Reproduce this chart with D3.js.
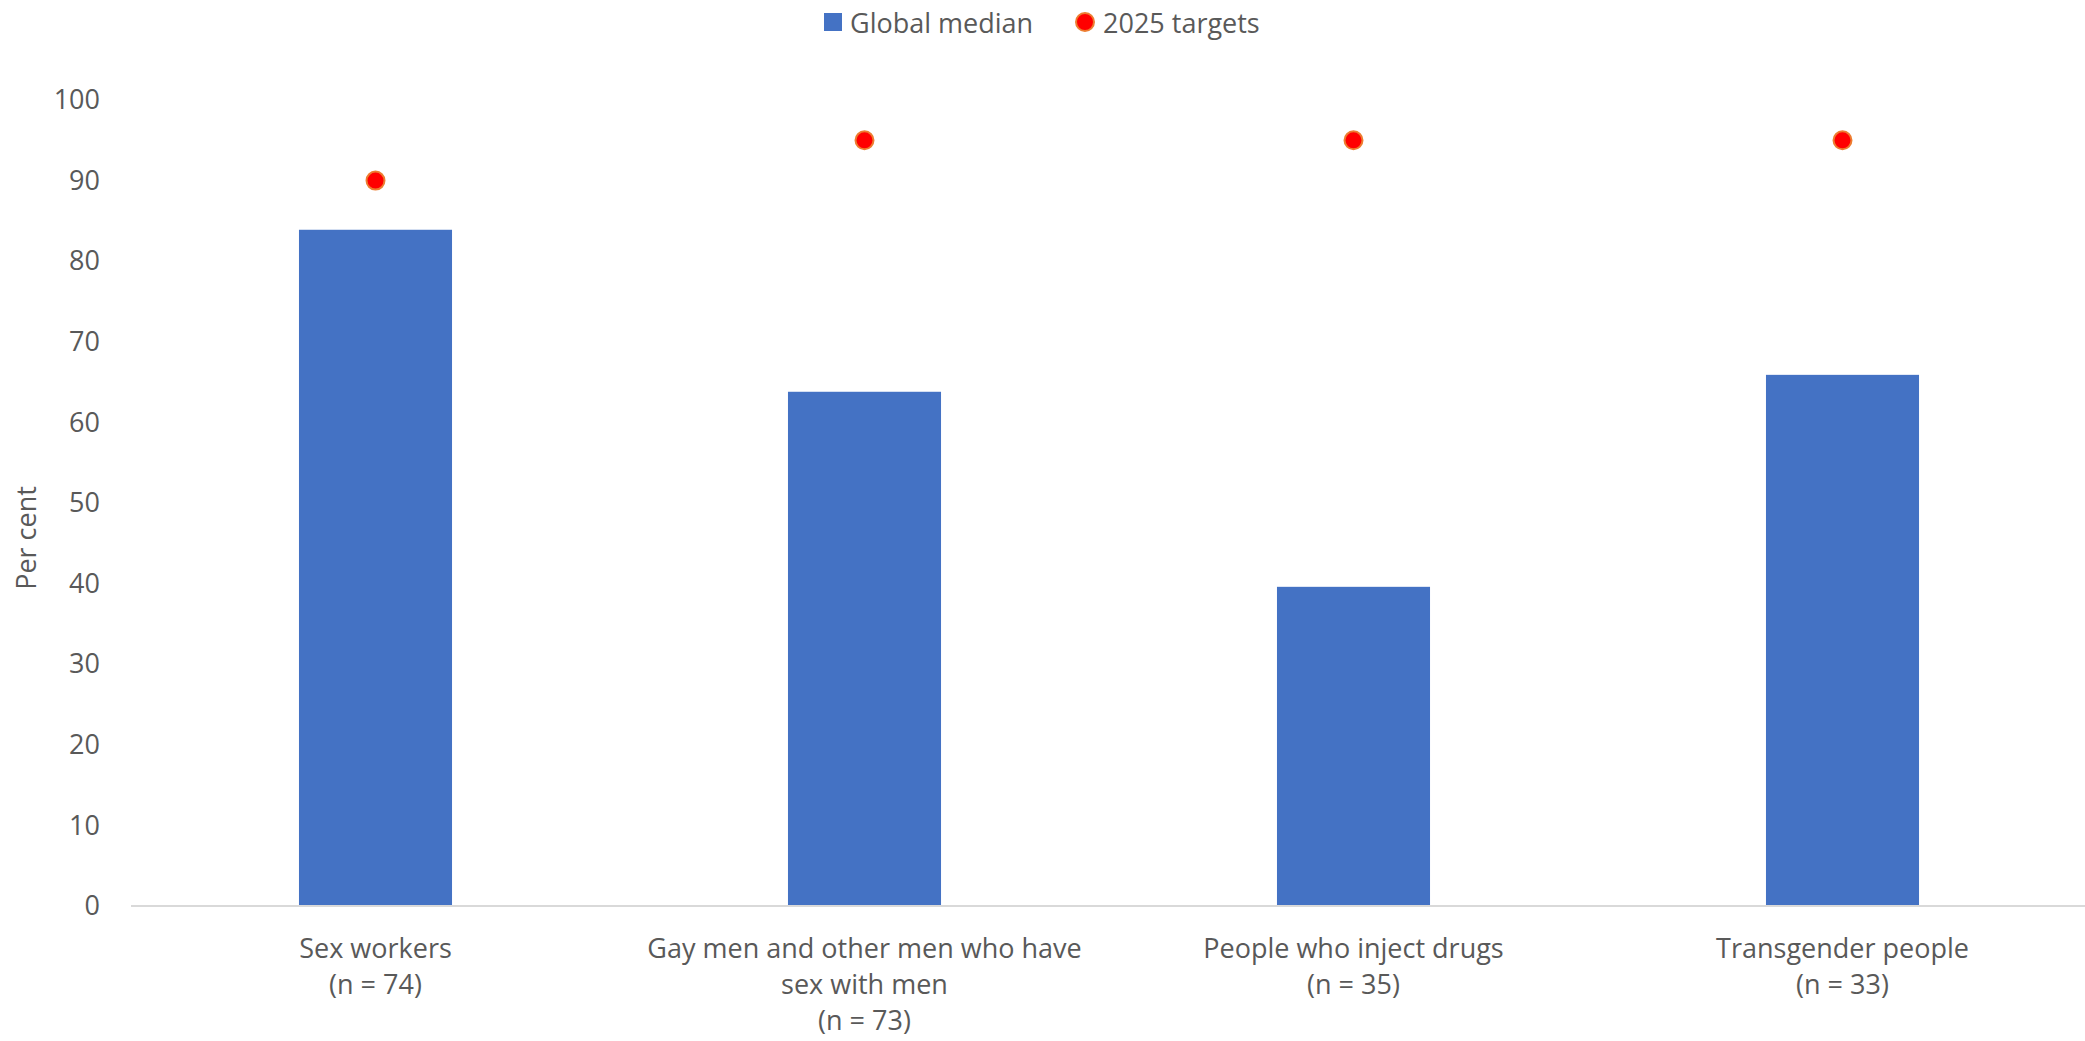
<!DOCTYPE html>
<html>
<head>
<meta charset="utf-8">
<script src="https://cdn.jsdelivr.net/npm/d3@7"></script>
<style>
  html, body { margin: 0; padding: 0; background: #fff; }
  svg { display: block; }
  text { font-family: "Open Sans", Lato, sans-serif; fill: #595959; }
</style>
</head>
<body>
<svg id="chart" width="2085" height="1041"></svg>
<script>
// Key-population groups and their sample sizes
const categories = [
  ["Sex workers", "(n = 74)"],
  ["Gay men and other men who have", "sex with men", "(n = 73)"],
  ["People who inject drugs", "(n = 35)"],
  ["Transgender people", "(n = 33)"]
];
const globalMedian = [83.9, 63.8, 39.6, 65.9];
const targets2025 = [90, 95, 95, 95];
const yTicks = [0, 10, 20, 30, 40, 50, 60, 70, 80, 90, 100];

const W = 2085, H = 1041;
const margin = { left: 131, right: -2, top: 100, bottom: 135 };
const svg = d3.select("#chart");

const x = d3.scaleBand()
  .domain(d3.range(categories.length))
  .range([margin.left, W - margin.right])
  .padding(0);
const y = d3.scaleLinear()
  .domain([0, 100])
  .range([H - margin.bottom, margin.top]);

const barW = x.bandwidth() * 0.313;
const fontSize = 27;
const fontFamily = "'Open Sans', Lato, sans-serif";

// Y axis labels (no axis line, no gridlines)
const yAxis = d3.axisLeft(y).tickValues(yTicks).tickSize(0).tickPadding(0);
const gy = svg.append("g").attr("transform", `translate(100,0)`).call(yAxis);
gy.select(".domain").remove();
gy.selectAll("text")
  .attr("font-size", fontSize)
  .attr("fill", "#595959")
  .style("font-family", fontFamily);

// Y axis title
svg.append("text")
  .attr("transform", `translate(25,${(y(0) + y(100)) / 2 + 35}) rotate(-90)`)
  .attr("text-anchor", "middle")
  .attr("dominant-baseline", "central")
  .attr("font-size", fontSize)
  .text("Per cent");

// Bars
svg.append("g").selectAll("rect")
  .data(globalMedian)
  .join("rect")
  .attr("x", (d, i) => x(i) + x.bandwidth() / 2 - barW / 2)
  .attr("y", d => y(d))
  .attr("width", barW)
  .attr("height", d => y(0) - y(d))
  .attr("fill", "#4472C4");

// Baseline
svg.append("line")
  .attr("x1", margin.left).attr("x2", W)
  .attr("y1", y(0)).attr("y2", y(0))
  .attr("stroke", "#D9D9D9").attr("stroke-width", 2);

// Target markers
svg.append("g").selectAll("circle")
  .data(targets2025)
  .join("circle")
  .attr("cx", (d, i) => x(i) + x.bandwidth() / 2)
  .attr("cy", d => y(d))
  .attr("r", 9)
  .attr("fill", "#FF0000")
  .attr("stroke", "#ED7D31")
  .attr("stroke-width", 2);

// Category labels
const xl = svg.append("g").selectAll("text")
  .data(categories)
  .join("text")
  .attr("text-anchor", "middle")
  .attr("font-size", fontSize)
  .attr("x", (d, i) => x(i) + x.bandwidth() / 2)
  .attr("y", y(0) + 52);
xl.selectAll("tspan")
  .data(d => d)
  .join("tspan")
  .attr("x", function () { return d3.select(this.parentNode).attr("x"); })
  .attr("dy", (d, i) => i === 0 ? 0 : 36)
  .text(d => d);

// Legend
const lg = svg.append("g");
lg.append("rect").attr("x", 824).attr("y", 13).attr("width", 18).attr("height", 18).attr("fill", "#4472C4");
lg.append("text").attr("x", 850).attr("y", 22).attr("dominant-baseline", "central")
  .attr("font-size", fontSize).text("Global median");
lg.append("circle").attr("cx", 1085).attr("cy", 22).attr("r", 9)
  .attr("fill", "#FF0000").attr("stroke", "#ED7D31").attr("stroke-width", 2);
lg.append("text").attr("x", 1103).attr("y", 22).attr("dominant-baseline", "central")
  .attr("font-size", fontSize).text("2025 targets");
</script>
</body>
</html>
